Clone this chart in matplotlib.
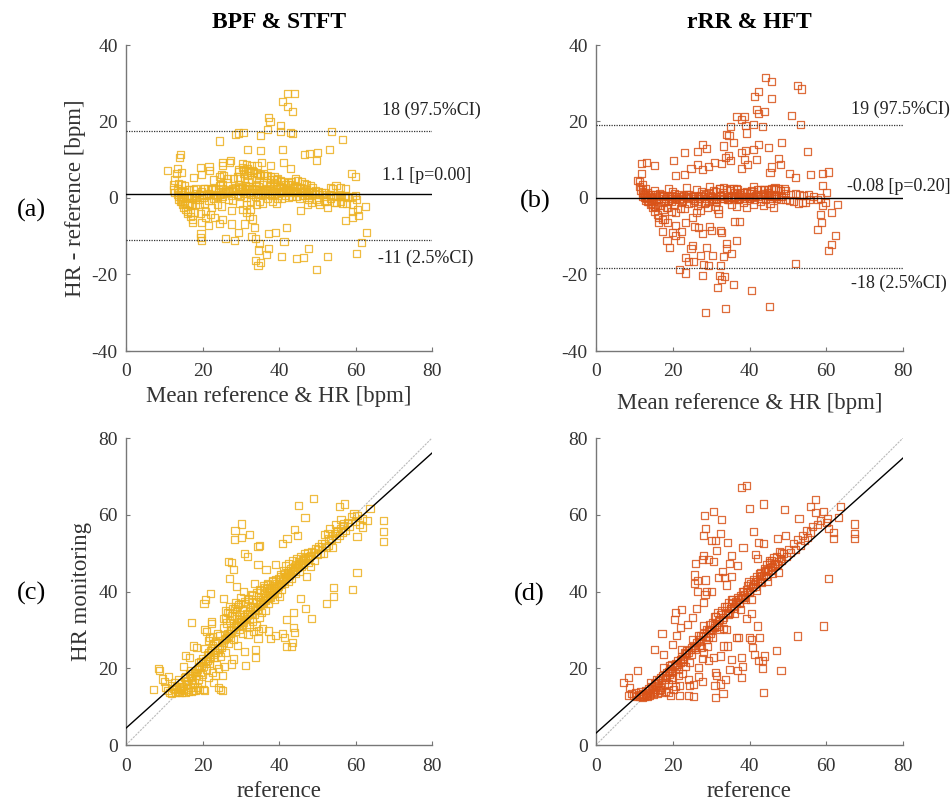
import numpy as np
import matplotlib
matplotlib.use("Agg")
import matplotlib.pyplot as plt

plt.rcParams['font.family'] = ['Liberation Serif', 'DejaVu Serif']
plt.rcParams['axes.unicode_minus'] = False

# ---------------- data: BPF & STFT (reference, HR monitoring) ----------------
bpf_ref = [
    7.2, 8.6, 8.8, 9.5, 10.0, 10.3, 10.8, 11.2, 11.5, 11.8, 12.0, 12.3, 12.6, 12.9, 13.2, 13.5, 13.8, 13.9,
    14.2, 14.4, 14.6, 14.8, 15.0, 15.1, 15.3, 15.5, 15.6, 15.8, 16.0, 16.2, 16.4, 16.5, 16.7, 16.8, 17.0, 17.1,
    17.2, 17.4, 17.6, 17.7, 17.9, 18.0, 18.2, 18.4, 18.5, 18.7, 18.9, 19.0, 19.2, 19.4, 19.5, 19.7, 19.9, 20.0,
    20.2, 20.3, 20.5, 20.6, 20.6, 20.4, 20.8, 20.9, 21.0,
    21.1, 21.3, 21.5, 21.6, 21.8, 21.9, 22.0, 22.2, 22.3, 22.4, 22.5, 22.6, 22.7, 22.9, 23.0, 23.1, 23.3, 23.5,
    23.6, 23.8, 24.0, 24.2, 24.3, 24.5, 24.7, 24.8, 25.0, 25.2, 25.3, 25.4, 25.5, 25.6, 25.7, 25.9, 26.0, 26.1,
    26.3, 26.5, 26.6, 26.8, 26.9, 27.0, 27.1, 27.2, 27.3, 27.4, 27.5, 27.7, 27.7, 27.8, 28.0, 28.0, 28.1, 28.2,
    28.3, 28.4, 28.5, 28.6, 28.7, 28.9, 29.0, 29.1, 29.2, 29.4, 29.5, 29.6, 29.8, 30.0, 30.1, 30.2, 30.3, 30.4,
    30.5, 30.6, 30.8, 31.0, 31.1, 31.2, 31.3, 31.4, 31.6, 31.8, 31.9, 32.0, 32.2, 32.3, 32.4, 32.6, 32.8, 33.0,
    33.2, 33.4, 33.5, 33.6, 33.8, 33.8, 34.0, 34.1,
    34.3, 34.5, 34.5, 34.5, 34.6, 34.7, 34.9, 35.0, 35.1, 35.3, 35.5, 35.6, 35.8, 35.9, 36.0, 36.2, 36.4, 36.5,
    36.6, 36.7, 36.9, 37.0, 37.2, 37.3, 37.4, 37.6, 37.7, 37.8, 38.0, 38.2, 38.4, 38.6, 38.8, 39.0, 39.2, 39.2,
    39.4, 39.6, 39.8, 40.0, 40.1,
    40.3, 40.5, 40.7, 40.9, 41.0, 41.0, 41.2, 41.4, 41.5, 41.6, 41.8, 41.9, 42.0, 42.1, 42.2, 42.4, 42.6, 42.8,
    43.0, 43.2, 43.3, 43.5, 43.6, 43.7, 43.7, 43.9, 44.1, 44.1, 44.2, 44.4, 44.6, 44.8, 44.8, 45.0, 45.2, 45.4,
    45.6, 45.7, 45.9, 46.1, 46.4, 46.6, 46.8, 47.0, 47.0, 47.3, 47.5, 47.8, 48.0, 48.4, 48.3,
    48.6, 49.0, 49.2, 49.5, 50.0, 50.4, 50.8, 51.2, 51.6, 52.0, 52.3, 52.5, 52.8, 53.0, 53.3, 53.6, 54.0, 54.2,
    54.3, 54.5, 54.8, 55.0, 55.4, 55.7, 55.9, 56.2, 56.5, 56.8, 57.1, 57.4, 57.8,
    58.5, 59.0, 59.2, 59.6, 60.0, 60.4, 60.4, 60.4, 61.0, 61.8, 61.9, 63.0, 63.8, 67.3, 67.3, 67.4,
    13.0, 14.0, 14.9, 15.9, 16.9, 17.5, 18.3, 18.8, 19.3, 19.8, 20.7, 21.2, 21.7, 22.1, 22.8, 23.4, 23.9, 24.4,
    24.9, 25.4, 25.8, 26.2, 26.7, 27.2, 27.6, 28.1, 28.6, 29.0, 29.5, 29.9, 30.3, 30.7, 31.1, 31.5, 31.9, 32.3,
    32.7, 33.1, 33.5, 33.9, 34.3, 34.8, 35.2, 35.7, 36.1, 36.6, 37.1, 37.5, 38.0, 38.5, 38.9, 39.3, 39.8, 40.2,
    40.6, 41.1, 41.6, 42.0, 42.5, 43.0, 43.5, 44.0, 44.5, 45.0, 45.5, 46.0, 46.5, 47.0, 47.6, 48.2, 49.0, 50.0,
    51.0, 52.0, 53.0, 54.0, 55.0, 56.0, 57.0,
    26.0, 27.0, 28.4, 29.2, 30.0, 31.0, 32.0, 33.2, 34.0, 35.0, 36.2, 37.0, 38.2, 39.0, 40.4, 41.4, 42.4, 44.0,
    45.5, 47.0, 19.0, 17.0, 15.5, 21.5, 23.0, 24.0,
]
bpf_hr = [
    14.5, 20.0, 19.3, 17.2, 16.5, 15.0, 14.2, 17.8, 13.6, 15.5, 13.5, 14.8, 16.2, 13.8, 15.2, 14.0, 17.0, 13.6,
    14.5, 16.0, 13.7, 15.3, 20.4, 14.2, 17.5, 23.4, 13.8, 15.8, 14.6, 16.8, 13.9, 18.6, 22.9, 15.1, 14.0, 32.0,
    17.2, 15.9, 25.8, 14.3, 19.0, 16.3, 14.1, 25.5, 18.0, 15.0, 20.5, 17.2, 14.4, 21.8, 19.0, 16.0, 22.5, 18.3,
    14.5, 20.4, 25.2, 14.3, 30.0, 36.9, 37.8, 22.0, 29.5,
    19.8, 23.5, 17.5, 27.2, 28.0, 21.2, 24.6, 39.4, 32.2, 31.6, 28.3, 19.0, 26.0, 16.4, 22.8, 25.3, 18.2, 27.0,
    21.0, 24.2, 26.6, 15.0, 20.0, 28.5, 14.4, 23.0, 25.5, 14.2, 18.0, 38.1, 30.5, 33.0, 20.5, 27.8, 35.0, 24.0,
    31.8, 29.0, 34.5, 47.8, 26.5, 32.5, 43.4, 36.0, 30.0, 28.0, 33.8, 47.6, 21.1, 35.5, 45.8, 22.4, 31.0, 27.5,
    53.5, 33.5, 55.9, 37.0, 29.5, 34.8, 41.3, 31.8, 26.0, 36.5, 32.8, 30.2, 34.0, 38.5, 31.2, 54.1, 57.6, 35.2,
    29.0, 33.5, 40.0, 50.0, 24.3, 20.7, 36.8, 31.5, 34.2, 49.1, 28.8, 37.8, 33.0, 54.9, 30.8, 35.8, 39.2, 32.2,
    36.2, 29.5, 42.0, 34.0, 24.8, 22.8, 37.5, 31.0,
    35.2, 47.1, 51.7, 27.7, 29.8, 38.8, 33.2, 51.9, 36.5, 40.2, 34.5, 38.0, 30.3, 41.5, 36.8, 39.5, 35.1, 37.6,
    45.8, 40.8, 38.2, 42.2, 37.0, 29.7, 39.8, 41.0, 27.7, 38.5, 40.5, 42.8, 39.2, 41.6, 37.8, 40.8, 47.0, 28.5,
    42.2, 39.6, 41.2, 43.5, 38.8,
    41.8, 44.5, 40.6, 29.0, 52.4, 43.2, 45.5, 42.0, 27.9, 46.8, 43.8, 25.6, 32.6, 53.7, 45.0, 42.6, 47.2, 44.2,
    46.0, 43.5, 25.7, 26.6, 48.0, 34.6, 30.6, 45.4, 29.4, 56.1, 47.0, 44.8, 48.5, 54.7, 46.2, 62.4, 47.8, 45.2,
    49.0, 38.1, 46.5, 48.2, 47.0, 49.8, 59.4, 35.6, 48.5, 44.0, 50.2, 47.5, 49.0, 33.0, 46.5,
    50.5, 64.2, 48.0, 51.2, 49.6, 51.8, 50.0, 52.5, 49.8, 54.8, 51.5, 36.8, 55.2, 52.0, 56.5, 53.5, 51.5, 41.0,
    38.7, 55.0, 57.5, 53.8, 56.0, 54.5, 62.2, 58.8, 55.5, 57.2, 62.8, 56.0, 58.0,
    57.0, 59.5, 40.5, 60.3, 58.2, 59.9, 54.4, 45.0, 57.5, 56.8, 59.0, 58.4, 61.6, 58.4, 55.7, 53.0,
    14.4, 15.0, 14.8, 16.5, 17.6, 18.2, 18.8, 19.6, 20.2, 20.6, 21.3, 22.0, 22.5, 23.0, 23.6, 24.0, 24.8, 25.2,
    26.0, 26.8, 27.5, 28.0, 28.6, 29.0, 29.8, 30.5, 31.0, 31.5, 31.2, 32.2, 32.8, 32.0, 33.5, 33.0, 34.0, 34.8,
    34.2, 35.2, 35.8, 35.0, 36.2, 36.8, 37.5, 37.0, 38.0, 38.5, 39.0, 38.6, 39.6, 40.2, 40.0, 41.0, 41.6, 42.2,
    42.0, 42.8, 43.5, 43.8, 44.4, 44.8, 45.3, 45.8, 46.2, 46.8, 47.3, 47.6, 48.0, 48.8, 49.2, 49.5, 50.2, 51.0,
    51.8, 52.5, 53.8, 54.6, 55.5, 56.5, 57.6,
    33.0, 34.5, 35.5, 36.0, 36.8, 37.5, 38.2, 39.0, 39.8, 40.5, 41.0, 41.8, 42.5, 43.2, 44.0, 44.8, 45.5, 46.5,
    47.0, 48.0, 21.5, 19.5, 17.8, 24.0, 26.5, 29.0,
]

# ---------------- data: rRR & HFT (reference, HR monitoring) ----------------
rrr_ref = [
    7.2, 8.5, 8.7, 8.5, 9.2, 9.8, 10.2, 10.5, 10.9, 11.0, 11.3, 11.6, 11.9, 12.2, 12.5, 12.8, 13.1, 13.4, 13.7, 13.9,
    14.2, 14.4, 14.7, 15.0, 15.2, 15.3, 15.5, 15.8, 16.0, 16.2, 16.5, 16.7, 16.9, 17.1, 17.2, 17.4, 17.7, 17.8,
    18.0, 18.2, 18.5, 18.8, 18.9, 19.1, 19.3, 19.4, 19.6, 19.8, 20.0, 20.0, 20.2, 20.5, 20.7, 20.7, 20.9, 21.0,
    21.2, 21.5, 21.8, 21.8, 22.0, 22.0, 22.2, 22.4, 22.6, 22.8, 23.0, 23.3, 23.6, 23.9, 24.0, 24.2, 24.4, 24.5,
    24.8, 25.1, 25.3, 25.5, 25.5, 25.7, 25.7, 25.9, 26.0, 26.1, 26.4, 26.5, 26.6, 26.6, 26.8, 27.0, 27.3, 27.7,
    27.7, 27.7, 27.9, 28.0, 28.1, 28.1, 28.1, 28.3, 28.4, 28.5, 28.5, 28.7, 28.9, 29.0, 29.2, 29.4, 29.4, 29.6,
    29.9, 30.1, 30.2, 30.3, 30.5, 30.5, 30.7, 30.8, 31.0, 31.0, 31.2, 31.2, 31.2, 31.3, 31.3, 31.5, 31.8, 31.9,
    32.0, 32.3, 32.5, 32.5, 32.5, 32.6, 32.8, 32.9, 33.1, 33.2, 33.3, 33.6, 33.6, 33.8, 33.9, 34.0, 34.2, 34.2,
    34.3, 34.6, 34.8, 34.8, 35.0, 35.2, 35.2, 35.2, 35.4, 35.7, 36.0, 36.3, 36.6, 36.8, 36.8, 37.0, 37.2, 37.4,
    37.7, 37.9, 37.9, 37.9, 38.1, 38.2, 38.3, 38.5, 38.8, 39.2, 39.2, 39.3, 39.6, 39.9, 40.0, 40.1, 40.3, 40.5,
    40.5, 40.7, 40.9, 41.0, 41.1, 41.4, 41.5, 41.6, 41.8, 42.0, 42.2, 42.3, 42.4, 42.5, 42.6, 42.8, 43.1, 43.3,
    43.4, 43.6, 43.6, 43.6, 43.8, 43.9, 44.2, 44.5, 44.8, 45.1, 45.4, 45.7, 46.0, 46.3, 46.6, 47.0, 47.1, 47.3,
    47.5, 47.9, 48.2, 48.3, 48.8, 49.1, 49.3, 49.6, 50.2, 50.8, 51.4, 52.0, 52.5, 52.6, 52.9, 53.3, 53.8, 54.3,
    54.8, 55.2, 55.9, 56.0, 56.5, 57.1, 57.3, 57.8, 58.5, 59.3, 59.4, 60.0, 60.3, 60.6, 60.7, 61.9, 61.9, 63.2,
    63.8, 67.4, 67.4, 67.4,
    12.0, 13.0, 14.0, 14.8, 15.6, 16.4, 17.3, 18.1, 18.9, 19.7, 20.4, 21.1, 21.9, 22.6, 23.4, 24.1, 24.9, 25.6,
    26.3, 27.1, 27.8, 28.6, 29.3, 30.0, 30.8, 31.5, 32.2, 33.0, 33.7, 34.4, 35.1, 35.9, 36.6, 37.3, 38.0, 38.7,
    39.4, 40.1, 40.8, 41.5, 42.2, 42.9, 43.6, 44.3, 45.0, 45.7, 46.4, 47.2, 48.0,
    12.3, 13.3, 14.3, 15.1, 15.9, 16.7, 17.6, 18.4, 19.2, 20.0, 20.7, 21.4, 22.2, 22.9, 23.7, 24.4, 25.2, 25.9,
    26.6, 27.4, 28.1, 28.9, 29.6, 30.3, 31.1, 31.8, 32.5, 33.3, 34.0, 34.7, 35.4, 36.2, 36.9, 37.6, 38.3, 39.0,
    39.7, 40.4, 41.1, 41.8, 42.5, 43.2, 43.9, 44.6, 45.3, 46.0, 46.7, 47.5, 48.3,
]
rrr_hr = [
    16.3, 17.7, 15.0, 13.0, 13.5, 12.8, 13.8, 12.6, 19.4, 13.2, 12.7, 14.0, 12.9, 13.4, 12.6, 14.2, 13.0, 13.6, 14.6, 12.9,
    13.4, 15.2, 14.0, 13.2, 16.0, 25.0, 14.5, 15.5, 13.5, 16.8, 14.2, 17.5, 15.0, 13.6, 29.0, 18.0, 23.5, 15.8,
    17.2, 14.0, 19.0, 13.7, 16.0, 18.5, 20.0, 13.0, 17.0, 21.0, 26.1, 19.2, 14.5, 32.6, 34.6, 15.2, 28.6, 20.5,
    22.0, 18.0, 13.0, 15.5, 30.7, 21.5, 35.2, 23.0, 18.7, 22.2, 24.0, 20.5, 23.8, 31.4, 13.0, 17.0, 15.4, 25.0,
    23.5, 33.3, 26.0, 15.7, 12.6, 44.3, 42.2, 47.2, 24.8, 35.5, 40.0, 42.8, 17.8, 20.2, 27.5, 26.0, 28.5, 48.3,
    22.6, 16.5, 49.3, 29.0, 37.2, 54.6, 24.2, 59.8, 39.1, 43.0, 56.3, 30.2, 40.0, 25.7, 28.0, 48.3, 22.0, 31.5,
    29.0, 40.0, 53.3, 32.0, 60.9, 22.9, 47.7, 30.5, 15.5, 33.5, 53.3, 12.4, 18.9, 50.6, 18.2, 31.0, 34.5, 43.7,
    32.5, 30.0, 55.2, 15.9, 23.2, 58.7, 35.0, 45.2, 13.5, 25.8, 33.2, 43.7, 36.0, 17.1, 41.7, 30.0, 52.8, 25.8,
    34.5, 37.0, 47.4, 19.7, 35.5, 49.3, 43.9, 22.2, 36.8, 38.0, 36.2, 37.5, 28.1, 46.8, 19.4, 38.5, 28.1, 37.2,
    39.0, 67.2, 22.9, 17.6, 20.4, 38.5, 51.4, 40.0, 39.2, 67.7, 33.0, 40.5, 41.5, 28.0, 39.8, 61.7, 42.0, 34.3,
    27.4, 41.0, 25.5, 43.2, 55.7, 23.7, 42.5, 49.7, 44.0, 48.7, 31.0, 22.0, 52.8, 43.5, 28.1, 45.0, 44.2, 21.9,
    20.0, 62.8, 52.4, 13.7, 23.2, 46.0, 45.2, 47.0, 45.8, 47.5, 46.2, 48.0, 46.5, 48.8, 47.2, 49.0, 24.6, 53.7,
    47.8, 50.5, 19.3, 48.0, 50.0, 61.3, 54.6, 49.2, 51.0, 50.2, 52.5, 51.0, 28.4, 53.5, 59.0, 52.0, 54.5, 53.2,
    55.8, 54.0, 62.2, 55.5, 57.0, 63.9, 60.6, 57.5, 58.5, 31.0, 60.8, 58.0, 59.1, 43.4, 56.5, 55.4, 53.7, 59.3,
    62.2, 57.6, 55.2, 53.7,
    12.5, 13.2, 14.3, 14.6, 15.9, 16.2, 17.6, 18.0, 19.2, 19.5, 20.8, 21.0, 22.3, 22.5, 23.8, 24.0, 25.3, 25.4,
    26.8, 27.0, 28.3, 28.4, 29.8, 30.0, 31.2, 31.4, 32.8, 32.8, 34.2, 34.0, 35.6, 35.7, 37.0, 37.0, 38.4, 38.5,
    39.9, 40.0, 41.3, 41.2, 42.7, 42.7, 44.2, 44.0, 45.4, 45.5, 46.9, 47.0, 48.5,
    13.1, 12.6, 16.3, 13.6, 17.1, 14.5, 20.1, 17.6, 20.8, 17.5, 21.1, 19.6, 25.0, 21.7, 24.7, 21.6, 27.4, 25.3,
    28.4, 25.4, 31.1, 27.5, 30.2, 27.9, 33.5, 30.8, 33.9, 30.3, 36.0, 34.2, 38.0, 34.4, 37.8, 35.4, 40.0, 37.9,
    42.6, 37.8, 41.8, 40.2, 44.8, 42.3, 45.4, 42.6, 48.0, 44.7, 47.2, 45.0, 50.2,
]

# Bland-Altman summary values and regression fits
bpf_stats = {"mean": 1.1, "upper": 17.5, "lower": -11.1}
rrr_stats = {"mean": -0.08, "upper": 19.0, "lower": -18.3}
bpf_fit = (0.896, 4.4)   # slope, intercept
rrr_fit = (0.896, 3.1)

bpf_text = ["18 (97.5%CI)", "1.1 [p=0.00]", "-11 (2.5%CI)"]
rrr_text = ["19 (97.5%CI)", "-0.08 [p=0.20]", "-18 (2.5%CI)"]

titles = ["BPF & STFT", "rRR & HFT"]
panel_labels = ["(a)", "(b)", "(c)", "(d)"]
colors = ["#EDB120", "#D95319"]

# ------------------------------------------------------------------------------
W, H = 952, 805
fig = plt.figure(figsize=(W / 100, H / 100), dpi=100)

def ax_at(left, top, right, bottom):
    return fig.add_axes([left / W, 1 - bottom / H, (right - left) / W, (bottom - top) / H])

axes = [ax_at(126, 45, 432, 351), ax_at(596, 45, 903, 351),
        ax_at(126, 438, 432, 745), ax_at(596, 438, 903, 745)]

spine_col = "#777777"
tick_col = "#333333"
label_fs = 16.5

def style(ax):
    for s in ["top", "right"]:
        ax.spines[s].set_visible(False)
    for s in ["left", "bottom"]:
        ax.spines[s].set_color(spine_col)
        ax.spines[s].set_linewidth(1.0)
    ax.tick_params(direction="in", length=3, width=0.8, color=spine_col,
                   labelsize=14, labelcolor=tick_col)
    ax.tick_params(axis="x", pad=9)
    ax.tick_params(axis="y", pad=6)

data = [(np.array(bpf_ref), np.array(bpf_hr), bpf_stats, bpf_fit, bpf_text),
        (np.array(rrr_ref), np.array(rrr_hr), rrr_stats, rrr_fit, rrr_text)]

for i, (ref, hr, st, fit, txt) in enumerate(data):
    col = colors[i]
    # Bland-Altman
    ax = axes[i]
    mean_v = (ref + hr) / 2
    diff_v = hr - ref
    ax.scatter(mean_v, diff_v, marker="s", s=26, facecolors="none", edgecolors=col,
               linewidths=0.9, alpha=0.85, zorder=2)
    ax.axhline(st["mean"], color="black", lw=1.0, zorder=3)
    ax.axhline(st["upper"], color="#333333", lw=0.9, ls=(0, (1, 1)), zorder=3)
    ax.axhline(st["lower"], color="#333333", lw=0.9, ls=(0, (1, 1)), zorder=3)
    ax.set_xlim(0, 80)
    ax.set_ylim(-40, 40)
    ax.set_xticks([0, 20, 40, 60, 80])
    ax.set_yticks([-40, -20, 0, 20, 40])
    style(ax)
    ax.set_xlabel("Mean reference & HR [bpm]", fontsize=label_fs, color="#333333",
                  labelpad=4 if i == 0 else 9)
    ax.set_title(titles[i], fontsize=17, fontweight="bold", pad=12)
    # Scatter reference vs HR
    ax2 = axes[i + 2]
    ax2.scatter(ref, hr, marker="s", s=26, facecolors="none", edgecolors=col,
                linewidths=0.9, alpha=0.85, zorder=2)
    xs = np.array([0, 80])
    ax2.plot(xs, xs, color="#bbbbbb", lw=0.8, ls=(0, (2, 1)), zorder=1)
    ax2.plot(xs, fit[0] * xs + fit[1], color="black", lw=1.0, zorder=3)
    ax2.set_xlim(0, 80)
    ax2.set_ylim(0, 80)
    ax2.set_xticks([0, 20, 40, 60, 80])
    ax2.set_yticks([0, 20, 40, 60, 80])
    style(ax2)
    ax2.set_xlabel("reference", fontsize=label_fs, color="#333333", labelpad=5)

axes[0].set_ylabel("HR - reference [bpm]", fontsize=label_fs, color="#333333", labelpad=4)
axes[2].set_ylabel("HR monitoring", fontsize=label_fs, color="#333333", labelpad=4)

# annotations on Bland-Altman plots
ann_pos_a = [(66.9, 23.0), (66.9, 5.8), (65.9, -15.7)]
ann_pos_b = [(66.4, 23.3), (65.5, 2.9), (66.4, -22.2)]
for ax, txts, poss in [(axes[0], bpf_text, ann_pos_a), (axes[1], rrr_text, ann_pos_b)]:
    for t, (x, y) in zip(txts, poss):
        ax.text(x, y, t, fontsize=13, color="#222222", ha="left", va="center", clip_on=False)

# panel labels
for lab, (px, py) in zip(panel_labels, [(31, 210), (535, 201), (31, 593), (529, 594)]):
    fig.text(px / W, 1 - py / H, lab, fontsize=19, ha="center", va="center")

fig.savefig("out.png", dpi=100)
